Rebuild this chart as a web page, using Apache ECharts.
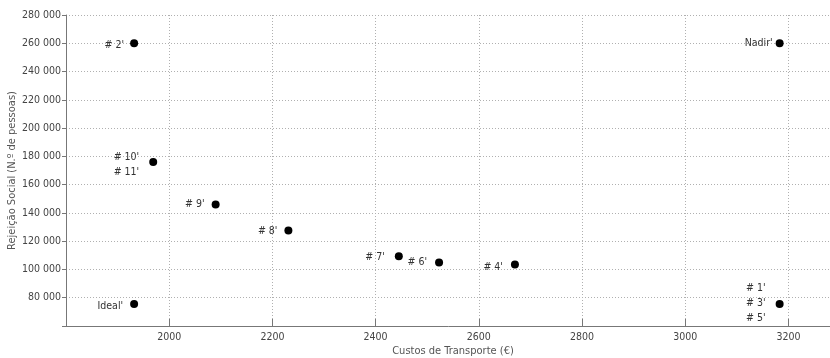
<!DOCTYPE html>
<html>
<head>
<meta charset="utf-8">
<script src="https://cdn.jsdelivr.net/npm/echarts@6/dist/echarts.min.js"></script>
<style>
  html, body { margin: 0; padding: 0; background: #ffffff; }
  #chart { width: 830px; height: 358px; }
</style>
</head>
<body>
<div id="chart"></div>
<script>
// Solutions: transport cost (€) vs. social rejection (number of people)
const pointLabels = ["# 2'", "Ideal'", "# 10'\n# 11'", "# 9'", "# 8'", "# 7'", "# 6'", "# 4'", "# 1'\n# 3'\n# 5'", "Nadir'"];
const transportCost = [1932, 1932, 1969, 2090, 2231, 2445, 2523, 2670, 3183, 3183];
const socialRejection = [260000, 75500, 176000, 146000, 127500, 109400, 105000, 103500, 75500, 260000];

// Axis ranges and ticks
const xMin = 1800, xMax = 3300, xStep = 200;
const yMin = 60000, yMax = 280000, yStep = 20000;

// Per-label nudges [dx, dy] in pixels
const labelNudge = [
  [0, 2], [-1, 2], [-4, 3], [-1, 0], [-1, 1],
  [-4, 1], [-2, 0], [-2, 3], [-4, -1], [3, 0]
];

const fontFamily = "'DejaVu Sans Condensed', 'DejaVu Sans', sans-serif";

function fmtThousands(v) {
  return String(v).replace(/\B(?=(\d{3})+(?!\d))/g, ' ');
}

const seriesData = transportCost.map((x, i) => ({
  value: [x, socialRejection[i]],
  label: {
    formatter: pointLabels[i],
    offset: labelNudge[i]
  }
}));

const chart = echarts.init(document.getElementById('chart'), null, { renderer: 'canvas' });
chart.setOption({
  animation: false,
  backgroundColor: '#ffffff',
  grid: { left: 66, right: -10, top: 15, bottom: 32, containLabel: false, outerBoundsMode: 'none' },
  xAxis: {
    type: 'value',
    min: xMin, max: xMax, interval: xStep,
    name: 'Custos de Transporte (€)',
    nameLocation: 'middle',
    nameGap: 20,
    nameMoveOverlap: false,
    nameTextStyle: { color: '#555', fontSize: 11, fontFamily: fontFamily },
    axisLine: { show: true, onZero: false, lineStyle: { color: '#777', width: 1 } },
    axisTick: { show: true, inside: true, length: 7, lineStyle: { color: '#777' } },
    axisLabel: {
      color: '#444', fontSize: 10.5, fontFamily: fontFamily, margin: 6,
      formatter: v => (v === xMin || v === xMax) ? '' : String(v)
    },
    splitLine: { show: true, lineStyle: { color: '#b0b0b0', type: [1, 2], width: 1 } }
  },
  yAxis: {
    type: 'value',
    min: yMin, max: yMax, interval: yStep,
    name: 'Rejeição Social (N.º de pessoas)',
    nameLocation: 'middle',
    nameGap: 48,
    nameMoveOverlap: false,
    nameTextStyle: { color: '#555', fontSize: 11, fontFamily: fontFamily },
    axisLine: { show: true, onZero: false, lineStyle: { color: '#777', width: 1 } },
    axisTick: { show: true, inside: false, length: 4, lineStyle: { color: '#777' } },
    axisLabel: {
      color: '#444', fontSize: 10.5, fontFamily: fontFamily, margin: 5,
      formatter: v => v === yMin ? '' : fmtThousands(v)
    },
    splitLine: { show: true, lineStyle: { color: '#b0b0b0', type: [1, 2], width: 1 } }
  },
  series: [{
    type: 'scatter',
    symbol: 'circle',
    symbolSize: 8,
    itemStyle: { color: '#000', opacity: 1 },
    label: {
      show: true,
      position: 'left',
      distance: 6,
      color: '#333',
      fontSize: 10.5,
      fontFamily: fontFamily,
      lineHeight: 15,
      align: 'right'
    },
    data: seriesData
  }]
});
</script>
</body>
</html>
